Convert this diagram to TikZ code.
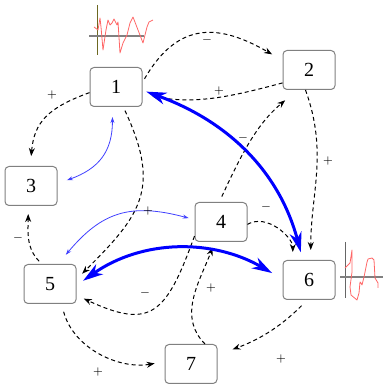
\documentclass[tikz,border=0pt]{standalone}
\usepackage{fontspec}
\setmainfont{Liberation Serif}
\usetikzlibrary{arrows.meta}

\begin{document}
\begin{tikzpicture}[x=0.5pt,y=0.5pt,
	gene/.style={draw=gray, rounded corners=2pt, line width=0.5pt, minimum width=26pt, minimum height=19.5pt, inner sep=0pt},
	link/.style={dash pattern=on 2pt off 1.5pt, line width=0.5pt, -{Stealth[length=4pt,width=3pt]}},
	strong/.style={blue, line width=1.5pt, {Stealth[length=10pt,width=6pt,inset=3pt]}-{Stealth[length=10pt,width=6pt,inset=3pt]}},
	weak/.style={blue!75!white, line width=0.4pt, {Stealth[length=3pt,width=2pt]}-{Stealth[length=3pt,width=2pt]}},
	sign/.style={font=\tiny, inner sep=0pt},
	trace/.style={red!60!white, line width=0.4pt, line join=round}]
	\useasboundingbox (0,0) rectangle (384,384);

	\draw[olive!70!black, line width=0.5pt] (97.7,379)--(97.7,329);
	\draw[gray, line width=0.7pt] (89,348)--(144,348);
	\draw[trace] plot coordinates {(94,357) (98,354) (100,366) (101,357) (103,334) (106,354) (108,364) (110,359) (112,361) (114,365) (117,359) (118,362) (120,331) (123,341) (127,349) (130,361) (133,367) (138,354) (143,341) (147,357) (149,362) (153,364)};

	\draw[gray!80!black, line width=0.5pt] (345,142)--(345,86);
	\draw[gray, line width=0.7pt] (340,107)--(383,107);
	\draw[trace] plot coordinates {(345,116) (350,121) (352,134) (352,112) (350,97) (351,89) (357,84) (359,91) (360,102) (361,101) (362,99) (364,107) (367,122) (368,125) (372,126) (374,124) (375,106) (378,101) (378,96)};

	\node[gene] (n1) at (116,297) {1};
	\node[gene] (n2) at (309,314) {2};
	\node[gene] (n3) at (31,198) {3};
	\node[gene] (n4) at (221,162) {4};
	\node[gene] (n5) at (50,100) {5};
	\node[gene] (n6) at (309,104) {6};
	\node[gene] (n7) at (191,20) {7};

	\draw[link, shorten <=2pt, shorten >=6pt] (n1.10) to[out=60,in=150,looseness=1.3] (n2.160);
	\draw[link, shorten >=5pt] (n2.206) to[out=195,in=-10] (n1.-16);
	\draw[link, shorten >=5pt] (n1.192) to[out=200,in=85,looseness=1.2] (n3.92);
	\draw[link, shorten <=2pt, shorten >=4pt] (n1.-70) to[out=-65,in=45,looseness=1.3] (n5.10);
	\draw[link, shorten >=5pt] (n2.-100) to[out=-70,in=90] (n6.85);
	\draw[link, shorten <=3pt, shorten >=8pt] (n4.95) to[out=65,in=220] (n2.240);
	\draw[link, shorten >=4pt] (n4.-5) to[out=30,in=90] (n6.129);
	\draw[link, shorten <=2pt, shorten >=4pt] (n5.112) to[out=135,in=-90] (n3.262);
	\draw[link, shorten >=4pt] (n4.208) to[out=-110,in=-25,looseness=1.6] (n5.-23);
	\draw[link, shorten <=4pt, shorten >=5pt] (n5.-60) to[out=-75,in=190] (n7.175);
	\draw[link, shorten <=4pt, shorten >=8pt] (n6.-95) to[out=-135,in=20] (n7.19);
	\draw[link, shorten >=3pt] (n7.55) to[out=135,in=-110] (n4.252);

	\draw[strong, shorten <=2pt, shorten >=4pt] (n1.-7) to[out=-20,in=105] (n6.107);
	\draw[strong, shorten <=4pt, shorten >=6pt] (n5.-3) to[out=35,in=150] (n6.178);
	\draw[weak, shorten <=5pt, shorten >=5pt] (n1.-100) to[out=-90,in=20,looseness=1.2] (n3.5);
	\draw[weak, shorten <=6pt, shorten >=3pt] (n5.68) to[out=50,in=165,looseness=1.2] (n4.175);

	\node[sign] (s12) at (207,344) {$-$};
	\node[sign] (s21) at (219,293) {$+$};
	\node[sign] (s13) at (52,289) {$+$};
	\node[sign] (s15) at (148,173) {$+$};
	\node[sign] (s26) at (328,223) {$+$};
	\node[sign] (s42) at (243,246) {$-$};
	\node[sign] (s46) at (266,177) {$-$};
	\node[sign] (s53) at (18,146) {$-$};
	\node[sign] (s45) at (145,91) {$-$};
	\node[sign] (s74) at (211,96) {$+$};
	\node[sign] (s57) at (98,12) {$+$};
	\node[sign] (s67) at (281,25) {$+$};
\end{tikzpicture}
\end{document}
